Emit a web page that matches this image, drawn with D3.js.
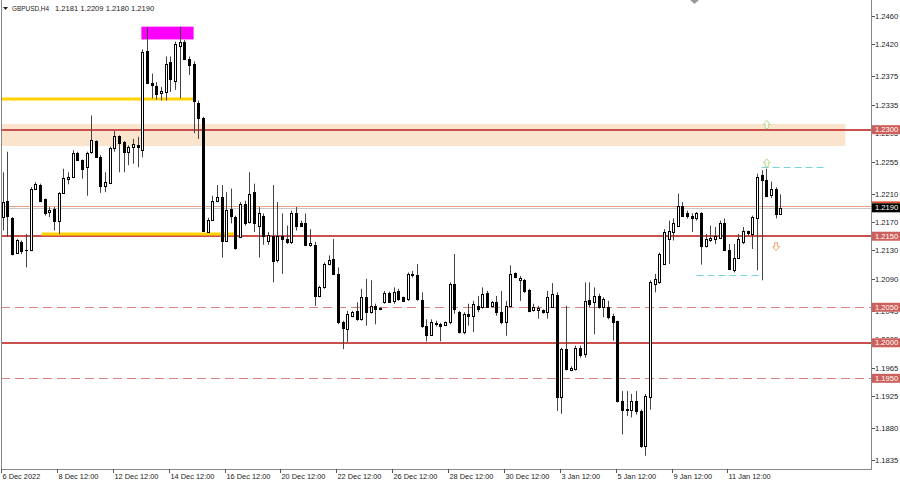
<!DOCTYPE html>
<html><head><meta charset="utf-8">
<script src="https://cdn.jsdelivr.net/npm/d3@7"></script>
<style>body{margin:0;background:#fff}svg{display:block}text{font-family:"Liberation Sans",Arial,sans-serif}</style>
</head><body><div id="chart"></div>
<script>
const opens=[1.2177,1.2200,1.2175,1.2127,1.2142,1.2130,1.2130,1.2217,1.2222,1.2202,1.2184,1.2189,1.2171,1.2211,1.2231,1.2233,1.2267,1.2257,1.2248,1.2269,1.2284,1.2262,1.2220,1.2225,1.2274,1.2291,1.2282,1.2269,1.2276,1.2279,1.2272,1.2411,1.2366,1.2362,1.2351,1.2353,1.2395,1.2368,1.2418,1.2423,1.2400,1.2393,1.2337,1.2316,1.2156,1.2173,1.2200,1.2205,1.2143,1.2189,1.2177,1.2149,1.2195,1.2170,1.2212,1.2165,1.2179,1.2143,1.2151,1.2116,1.2150,1.2146,1.2142,1.2182,1.2168,1.2168,1.2138,1.2138,1.2066,1.2078,1.2111,1.2118,1.2097,1.2029,1.2019,1.2038,1.2045,1.2034,1.2064,1.2043,1.2052,1.2049,1.2057,1.2070,1.2059,1.2073,1.2064,1.2062,1.2097,1.2096,1.2060,1.2023,1.2011,1.2026,1.2027,1.2025,1.2029,1.2083,1.2043,1.2015,1.2040,1.2037,1.2052,1.2051,1.2070,1.2052,1.2057,1.2043,1.2029,1.2052,1.2098,1.2089,1.2089,1.2074,1.2046,1.2046,1.2046,1.2043,1.2050,1.2067,1.1923,1.1991,1.1962,1.1963,1.1993,1.1984,1.2060,1.2057,1.2066,1.2050,1.2050,1.2038,1.2030,1.1918,1.1907,1.1905,1.1918,1.1904,1.1855,1.1923,1.2083,1.2085,1.2111,1.2146,1.2156,1.2165,1.2193,1.2182,1.2179,1.2175,1.2183,1.2136,1.2144,1.2146,1.2148,1.2168,1.2131,1.2103,1.2120,1.2142,1.2157,1.2153,1.2175,1.2236,1.2229,1.2208,1.2217,1.2181];
const highs=[1.2240,1.2269,1.2177,1.2146,1.2144,1.2153,1.2219,1.2226,1.2224,1.2203,1.2191,1.2191,1.2212,1.2245,1.2240,1.2271,1.2269,1.2258,1.2269,1.2320,1.2285,1.2264,1.2240,1.2276,1.2298,1.2292,1.2284,1.2278,1.2287,1.2290,1.2413,1.2444,1.2379,1.2367,1.2360,1.2403,1.2403,1.2424,1.2445,1.2426,1.2403,1.2396,1.2341,1.2318,1.2176,1.2207,1.2222,1.2222,1.2212,1.2217,1.2179,1.2198,1.2200,1.2240,1.2224,1.2191,1.2182,1.2156,1.2222,1.2198,1.2182,1.2165,1.2186,1.2191,1.2172,1.2182,1.2160,1.2142,1.2080,1.2113,1.2123,1.2146,1.2106,1.2031,1.2045,1.2045,1.2057,1.2076,1.2090,1.2088,1.2055,1.2050,1.2073,1.2072,1.2078,1.2076,1.2065,1.2099,1.2101,1.2111,1.2071,1.2033,1.2033,1.2031,1.2028,1.2030,1.2085,1.2125,1.2045,1.2043,1.2055,1.2059,1.2066,1.2078,1.2073,1.2059,1.2066,1.2073,1.2059,1.2109,1.2099,1.2094,1.2090,1.2076,1.2055,1.2052,1.2047,1.2073,1.2084,1.2071,1.1993,1.2052,1.1967,1.1996,1.1996,1.2085,1.2085,1.2078,1.2069,1.2064,1.2059,1.2041,1.2031,1.1932,1.1932,1.1928,1.1932,1.1906,1.1928,1.2088,1.2097,1.2127,1.2160,1.2172,1.2175,1.2210,1.2198,1.2186,1.2182,1.2184,1.2184,1.2153,1.2165,1.2163,1.2172,1.2175,1.2139,1.2139,1.2153,1.2163,1.2158,1.2179,1.2238,1.2243,1.2245,1.2227,1.2219,1.2209];
const lows=[1.2158,1.2149,1.2123,1.2125,1.2125,1.2106,1.2129,1.2215,1.2198,1.2179,1.2177,1.2158,1.2153,1.2210,1.2223,1.2232,1.2257,1.2231,1.2207,1.2266,1.2261,1.2211,1.2212,1.2224,1.2269,1.2240,1.2240,1.2250,1.2252,1.2247,1.2261,1.2365,1.2344,1.2342,1.2341,1.2341,1.2353,1.2356,1.2344,1.2398,1.2377,1.2295,1.2287,1.2156,1.2155,1.2172,1.2199,1.2120,1.2142,1.2168,1.2131,1.2148,1.2165,1.2168,1.2156,1.2120,1.2138,1.2138,1.2085,1.2113,1.2097,1.2139,1.2139,1.2158,1.2163,1.2137,1.2135,1.2052,1.2064,1.2076,1.2109,1.2096,1.2026,1.1991,1.2001,1.2036,1.2031,1.2031,1.2024,1.2041,1.2026,1.2046,1.2055,1.2057,1.2055,1.2059,1.2058,1.2059,1.2092,1.2059,1.2021,1.2002,1.2010,1.2023,1.2002,1.2024,1.2026,1.2041,1.2013,1.2012,1.2024,1.2015,1.2043,1.2048,1.2050,1.2050,1.2038,1.2026,1.2010,1.2050,1.2091,1.2059,1.2070,1.2043,1.2044,1.2034,1.2041,1.2034,1.2049,1.1904,1.1900,1.1961,1.1960,1.1961,1.1979,1.1979,1.2050,1.2012,1.2048,1.2036,1.2033,1.2003,1.1916,1.1871,1.1897,1.1895,1.1899,1.1852,1.1841,1.1906,1.2071,1.2083,1.2110,1.2111,1.2144,1.2163,1.2177,1.2175,1.2156,1.2172,1.2110,1.2134,1.2142,1.2139,1.2146,1.2130,1.2102,1.2099,1.2118,1.2139,1.2151,1.2132,1.2102,1.2088,1.2205,1.2204,1.2175,1.2180];
const closes=[1.2198,1.2179,1.2125,1.2144,1.2129,1.2131,1.2217,1.2224,1.2200,1.2182,1.2187,1.2171,1.2211,1.2232,1.2234,1.2267,1.2258,1.2245,1.2267,1.2286,1.2262,1.2221,1.2226,1.2274,1.2291,1.2281,1.2269,1.2276,1.2280,1.2275,1.2409,1.2366,1.2363,1.2350,1.2354,1.2393,1.2371,1.2421,1.2423,1.2399,1.2391,1.2341,1.2316,1.2157,1.2173,1.2200,1.2205,1.2143,1.2187,1.2179,1.2134,1.2196,1.2168,1.2210,1.2168,1.2182,1.2151,1.2152,1.2115,1.2151,1.2146,1.2142,1.2182,1.2165,1.2165,1.2138,1.2140,1.2066,1.2079,1.2111,1.2117,1.2097,1.2029,1.2021,1.2040,1.2044,1.2034,1.2064,1.2043,1.2052,1.2048,1.2048,1.2070,1.2058,1.2071,1.2062,1.2059,1.2097,1.2095,1.2062,1.2023,1.2011,1.2029,1.2028,1.2024,1.2029,1.2083,1.2048,1.2015,1.2041,1.2038,1.2055,1.2048,1.2068,1.2051,1.2057,1.2043,1.2029,1.2052,1.2097,1.2092,1.2091,1.2073,1.2045,1.2050,1.2049,1.2043,1.2064,1.2069,1.1923,1.1991,1.1963,1.1965,1.1993,1.1983,1.2059,1.2055,1.2066,1.2050,1.2062,1.2036,1.2029,1.1918,1.1906,1.1905,1.1918,1.1904,1.1855,1.1925,1.2085,1.2090,1.2125,1.2156,1.2158,1.2168,1.2193,1.2179,1.2179,1.2175,1.2183,1.2136,1.2146,1.2148,1.2151,1.2168,1.2131,1.2104,1.2120,1.2146,1.2158,1.2154,1.2177,1.2234,1.2229,1.2207,1.2217,1.2181,1.2190];

const priceTicks=[1.2460,1.2420,1.2375,1.2335,1.2295,1.2255,1.2210,1.2170,1.2130,1.2090,1.2045,1.2005,1.1965,1.1925,1.1880,1.1835];
const dateTickIdx=[0,11,23,35,47,59,71,83,95,107,119,131,143,155];
const dateTickLabels=["6 Dec 2022","8 Dec 12:00","12 Dec 12:00","14 Dec 12:00","16 Dec 12:00","20 Dec 12:00","22 Dec 12:00","26 Dec 12:00","28 Dec 12:00","30 Dec 12:00","3 Jan 12:00","5 Jan 12:00","9 Jan 12:00","11 Jan 12:00"];

const solidLevels=[1.2300,1.2150,1.2000];
const dashedLevels=[1.2050,1.1950];
const zone=[1.2308,1.2277];
const zoneBars=[0,181];
const yellow1={p:1.2343,from:0,to:41};
const yellow2={p:1.2153,from:9,to:50};
const magenta={top:1.2445,bot:1.2427,from:30,to:41};
const cyanUp={p:1.2247,from:163,to:177};
const cyanDn={p:1.2096,from:149,to:163};
const bid=1.2190, ask=1.2192;

const W=900,H=481, L=1, R=871, T=0, B=469;
const svg=d3.select("#chart").append("svg").attr("width",W).attr("height",H);
const x=d3.scaleLinear().domain([0,167]).range([2.7,2.7+167*4.656]);
const y=d3.scaleLinear().domain([1.1835,1.2460]).range([460,16]);

const g=svg.append("g");
const red="#c9504c";
g.append("rect").attr("x",L+1).attr("y",y(zone[0])).attr("width",x(zoneBars[1])-L-1).attr("height",y(zone[1])-y(zone[0])).attr("fill","#fbe4cd");
solidLevels.forEach(p=>g.append("line").attr("x1",L).attr("x2",R).attr("y1",Math.round(y(p))).attr("y2",Math.round(y(p))).attr("stroke",red).attr("stroke-width",2));
dashedLevels.forEach(p=>g.append("line").attr("x1",L).attr("x2",R).attr("y1",Math.round(y(p))+0.5).attr("y2",Math.round(y(p))+0.5).attr("stroke","#d98080").attr("stroke-width",1).attr("stroke-dasharray","9,5"));
g.append("line").attr("x1",L).attr("x2",R).attr("y1",Math.round(y(ask))+0.5).attr("y2",Math.round(y(ask))+0.5).attr("stroke","#e8a080").attr("stroke-width",1);
g.append("line").attr("x1",L).attr("x2",R).attr("y1",Math.round(y(bid))+0.5).attr("y2",Math.round(y(bid))+0.5).attr("stroke","#c8c8c8").attr("stroke-width",1);
[yellow1,yellow2].forEach(o=>g.append("line").attr("x1",Math.max(L+1,x(o.from)-3)).attr("x2",x(o.to)).attr("y1",y(o.p)).attr("y2",y(o.p)).attr("stroke","#ffd200").attr("stroke-width",3));
g.append("rect").attr("x",x(magenta.from)-1).attr("y",y(magenta.top)).attr("width",x(magenta.to)-x(magenta.from)+1).attr("height",y(magenta.bot)-y(magenta.top)).attr("fill","#ff00ff");
[cyanUp,cyanDn].forEach(o=>g.append("line").attr("x1",x(o.from)).attr("x2",x(o.to)).attr("y1",Math.round(y(o.p))+0.5).attr("y2",Math.round(y(o.p))+0.5).attr("stroke","#76d3d8").attr("stroke-width",1).attr("stroke-dasharray","7,4"));

const n=opens.length;
const cg=g.append("g");
for(let i=0;i<n;i++){
  const cx=Math.round(x(i));
  const o=opens[i],c=closes[i],h=highs[i],l=lows[i];
  cg.append("line").attr("x1",cx+0.5).attr("x2",cx+0.5).attr("y1",y(h)).attr("y2",y(l)).attr("stroke","#444").attr("stroke-width",1);
  const top=Math.round(y(Math.max(o,c)))+0.5, bot=Math.round(y(Math.min(o,c)))+0.5;
  cg.append("rect").attr("x",cx-0.5).attr("y",top).attr("width",2).attr("height",Math.max(0.01,bot-top))
    .attr("fill",c>=o?"#fff":"#000").attr("stroke","#000").attr("stroke-width",1);
}

function upArrow(cx,cy,col){
  const p=`M${cx},${cy-4} L${cx+3.5},${cy} L${cx+1.5},${cy} L${cx+1.5},${cy+4} L${cx-1.5},${cy+4} L${cx-1.5},${cy} L${cx-3.5},${cy} Z`;
  g.append("path").attr("d",p).attr("fill","#fff").attr("stroke",col).attr("stroke-width",1);
}
function dnArrow(cx,cy,col){
  const p=`M${cx},${cy+4} L${cx+3.5},${cy} L${cx+1.5},${cy} L${cx+1.5},${cy-4} L${cx-1.5},${cy-4} L${cx-1.5},${cy} L${cx-3.5},${cy} Z`;
  g.append("path").attr("d",p).attr("fill","#fff").attr("stroke",col).attr("stroke-width",1);
}
upArrow(x(164)+0.5,y(1.2308)+0.5,"#b5d88a");
upArrow(x(164)+0.5,y(1.2254)+0.5,"#b5d88a");
dnArrow(x(166)+0.5,y(1.2136)+0.5,"#f0a070");

svg.append("line").attr("x1",L+0.5).attr("x2",L+0.5).attr("y1",T).attr("y2",B).attr("stroke","#888");
svg.append("line").attr("x1",R+0.5).attr("x2",R+0.5).attr("y1",T).attr("y2",B+0.5).attr("stroke","#888");
svg.append("line").attr("x1",L).attr("x2",R+1).attr("y1",B+0.5).attr("y2",B+0.5).attr("stroke","#888");
svg.append("path").attr("d","M690,0 L699,0 L694.5,4 Z").attr("fill","#999");

// price axis
const defs=svg.append("defs");
const tagPrices=[...solidLevels,...dashedLevels,bid];
const pa=svg.append("g");
priceTicks.forEach((p,k)=>{
  const yy=Math.round(y(p))+0.5;
  pa.append("line").attr("x1",R+1).attr("x2",R+4).attr("y1",yy).attr("y2",yy).attr("stroke","#555");
  const t=pa.append("text").attr("x",R+4).attr("y",yy).attr("dy","0.35em").attr("font-size",7.6).attr("fill","#222").text(p.toFixed(4));
  const near=tagPrices.find(q=>Math.abs(y(q)-y(p))<8);
  if(near!==undefined){
    const ty=y(near), id="clipTick"+k;
    const cp=defs.append("clipPath").attr("id",id);
    if(y(p)>ty) cp.append("rect").attr("x",R).attr("y",ty+4.5).attr("width",W-R).attr("height",10);
    else cp.append("rect").attr("x",R).attr("y",ty-14.5).attr("width",W-R).attr("height",10);
    t.attr("clip-path",`url(#${id})`);
  }
});
function tag(p,bg,fg){
  const yy=y(p);
  pa.append("rect").attr("x",R+1).attr("y",yy-4.5).attr("width",W-R-1).attr("height",9).attr("fill",bg);
  pa.append("text").attr("x",R+4).attr("y",yy).attr("dy","0.35em").attr("font-size",7.6).attr("fill",fg).text(p.toFixed(4));
}
[...solidLevels,...dashedLevels].forEach(p=>tag(p,"#cd5f5c","#fff"));
pa.append("rect").attr("x",R+1).attr("y",y(ask)-5).attr("width",W-R-1).attr("height",2).attr("fill","#e05030");
tag(bid,"#000","#fff");

// time axis
const ta=svg.append("g");
dateTickIdx.forEach((idx,k)=>{
  const xx=k===0?L+0.5:Math.round(x(idx)+3)+0.5;
  ta.append("line").attr("x1",xx).attr("x2",xx).attr("y1",B).attr("y2",B+4).attr("stroke","#555");
  ta.append("text").attr("x",xx+1).attr("y",479).attr("font-size",7.4).attr("fill","#222").text(dateTickLabels[k]);
});

// header
svg.append("path").attr("d","M3,7 L8,7 L5.5,10 Z").attr("fill","#222");
svg.append("text").attr("x",12).attr("y",11).attr("font-size",7.6).attr("fill","#222").attr("textLength",37).attr("lengthAdjust","spacingAndGlyphs").text("GBPUSD,H4");
svg.append("text").attr("x",55).attr("y",11).attr("font-size",7.6).attr("fill","#222").text("1.2181 1.2209 1.2180 1.2190");
</script></body></html>
